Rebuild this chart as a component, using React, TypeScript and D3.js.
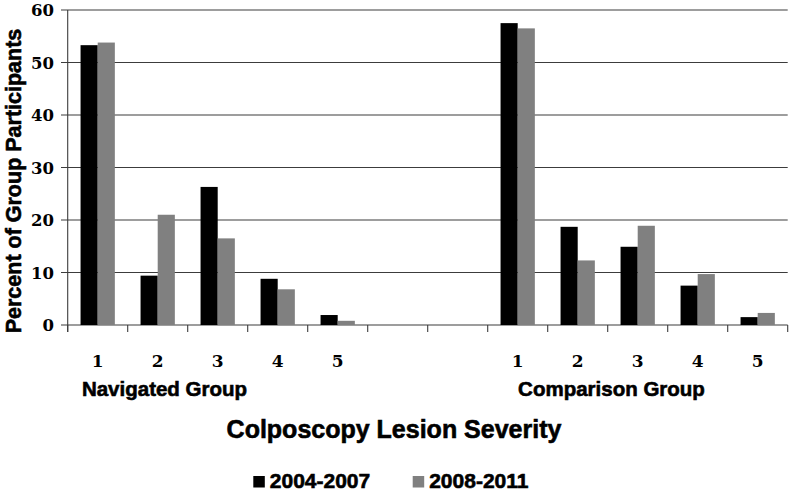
import React from "react";
import * as d3 from "d3";

const categories = ["1", "2", "3", "4", "5"];
const groupNames = ["Navigated Group", "Comparison Group"];
const seriesNames = ["2004-2007", "2008-2011"];
const navigated2004 = [53.3, 9.4, 26.3, 8.8, 1.9];
const navigated2008 = [53.8, 21.0, 16.5, 6.8, 0.8];
const comparison2004 = [57.5, 18.7, 14.9, 7.5, 1.5];
const comparison2008 = [56.5, 12.3, 18.9, 9.7, 2.3];
const yTicks = [0, 10, 20, 30, 40, 50, 60];
const gapSlots = ["gapA", "gapB"];

const W = 792;
const H = 493;
const left = 67.7;
const right = 787.7;
const top = 10;
const bottom = 325;

const colors = ["#000000", "#808080"];
const sans = "Liberation Sans, Arial, sans-serif";
const heavy = { stroke: "#000", strokeWidth: 0.6 };

export default function App() {
  const slotKeys = [
    ...categories.map((c) => "N" + c),
    ...gapSlots,
    ...categories.map((c) => "C" + c),
  ];
  const x = d3.scaleBand<string>().domain(slotKeys).range([left, right]).padding(0);
  const xs = d3
    .scaleBand<string>()
    .domain(seriesNames)
    .range([0, x.bandwidth()])
    .paddingInner(0)
    .paddingOuter(0.75);
  const y = d3.scaleLinear().domain([0, 60]).range([bottom, top]);

  const groups = [
    { prefix: "N", name: groupNames[0], values: [navigated2004, navigated2008] },
    { prefix: "C", name: groupNames[1], values: [comparison2004, comparison2008] },
  ];

  const boundaries = d3.range(slotKeys.length + 1).map((i) => left + i * x.step());

  const groupLabelX = [164.5, 611.5];

  return (
    <svg
      width={W}
      height={H}
      style={{ position: "absolute", left: 0, top: 0, background: "#fff" }}
    >
      {yTicks.map((t) => (
        <line
          key={"g" + t}
          x1={left - 6.7}
          x2={right}
          y1={y(t)}
          y2={y(t)}
          stroke="#3c3c3c"
          strokeWidth={1.1}
        />
      ))}
      <line x1={left} x2={left} y1={top} y2={bottom + 7} stroke="#3c3c3c" strokeWidth={1.1} />
      {boundaries.map((bx, i) => (
        <line key={"xt" + i} x1={bx} x2={bx} y1={bottom} y2={bottom + 7} stroke="#3c3c3c" strokeWidth={1.1} />
      ))}
      {groups.map((g) =>
        g.values.map((vals, si) =>
          vals.map((v, ci) => {
            const bx = (x(g.prefix + categories[ci]) as number) + (xs(seriesNames[si]) as number);
            return (
              <rect
                key={g.prefix + si + ci}
                x={bx}
                y={y(v)}
                width={xs.bandwidth()}
                height={bottom - y(v)}
                fill={colors[si]}
              />
            );
          })
        )
      )}
      {yTicks.map((t) => (
        <text
          key={"yl" + t}
          x={54}
          y={y(t) + 6}
          textAnchor="end"
          fontFamily="DejaVu Serif"
          fontWeight="bold"
          fontSize={16.5}
          fill="#000"
        >
          {t}
        </text>
      ))}
      {groups.map((g) =>
        categories.map((c) => (
          <text
            key={"xl" + g.prefix + c}
            x={(x(g.prefix + c) as number) + x.bandwidth() / 2}
            y={366.5}
            textAnchor="middle"
            fontFamily="DejaVu Serif"
            fontWeight="bold"
            fontSize={17}
            fill="#000"
          >
            {c}
          </text>
        ))
      )}
      {groups.map((g, i) => (
        <text
          key={"gl" + i}
          x={groupLabelX[i]}
          y={396}
          textAnchor="middle"
          fontFamily={sans}
          fontWeight="bold"
          fontSize={20.5}
          fill="#000"
          {...heavy}
        >
          {g.name}
        </text>
      ))}
      <text
        x={394}
        y={438.3}
        textAnchor="middle"
        fontFamily={sans}
        fontWeight="bold"
        fontSize={25}
        fill="#000"
        {...heavy}
      >
        Colposcopy Lesion Severity
      </text>
      <text
        transform={`translate(21,181) rotate(-90)`}
        textAnchor="middle"
        fontFamily={sans}
        fontWeight="bold"
        fontSize={21.5}
        fill="#000"
        {...heavy}
      >
        Percent of Group Participants
      </text>
      {seriesNames.map((s, i) => {
        const lx = [253.3, 412.7][i];
        return (
          <g key={"lg" + s}>
            <rect x={lx} y={476} width={11.5} height={11.5} fill={colors[i]} />
            <text
              x={lx + 16.5}
              y={488.3}
              fontFamily={sans}
              fontWeight="bold"
              fontSize={21}
              fill="#000"
              {...heavy}
            >
              {s}
            </text>
          </g>
        );
      })}
    </svg>
  );
}
